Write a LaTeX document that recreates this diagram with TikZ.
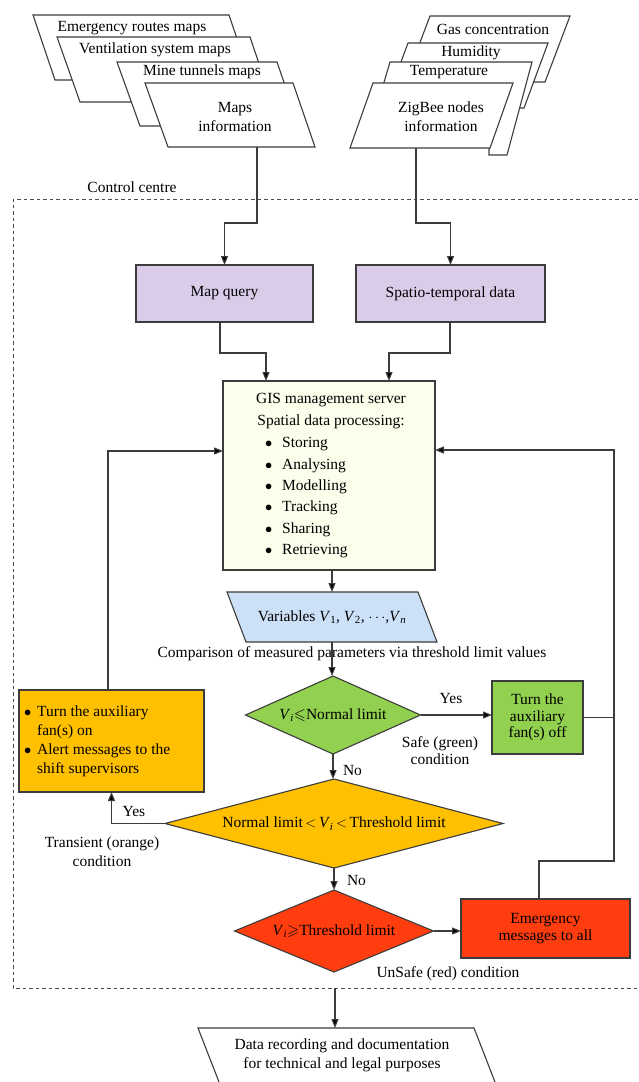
\documentclass[tikz,border=0pt]{standalone}
\usepackage{fontspec}
\usepackage{amssymb}
\setmainfont{Liberation Serif}
\usetikzlibrary{arrows.meta,shapes.geometric}
\definecolor{linec}{HTML}{3C3C3C}
\definecolor{purp}{HTML}{DACCE8}
\definecolor{gisy}{HTML}{FDFDEC}
\definecolor{varb}{HTML}{CCE0F7}
\definecolor{grn}{HTML}{92D050}
\definecolor{org}{HTML}{FFC000}
\definecolor{rdc}{HTML}{FF3D0F}
\begin{document}
\begin{tikzpicture}[x=1pt,y=-1pt,
 every node/.style={font=\fontsize{15.5}{19}\selectfont, inner sep=0pt, outer sep=0pt},
 box/.style={draw=linec, line width=1.1pt, align=center},
 para/.style={draw=linec, line width=1.1pt, fill=white, line join=miter},
 conn/.style={draw=linec, line width=1.1pt},
 arr/.style={conn, -{Triangle[length=9pt,width=7pt,fill=black]}},
 lbl/.style={align=center},
 dia/.style={diamond, draw=linec, line width=1.1pt, align=center},
 ccbox/.style={draw=black!70, line width=1pt, dash pattern=on 3.5pt off 3pt},
]
\useasboundingbox (0,0) rectangle (638,1082);

% left stack of maps
\path[para] (33,15) -- (229,15) -- (251,80) -- (55,80) -- cycle;
\node[lbl] (t1) at (132,28) {Emergency routes maps};
\path[para] (57,37) -- (250,37) -- (272,102) -- (80,102) -- cycle;
\node[lbl] (t2) at (155,50) {Ventilation system maps};
\path[para] (117,62) -- (277,62) -- (299,126) -- (140,126) -- cycle;
\node[lbl] (t3) at (202,72) {Mine tunnels maps};
\path[para] (145,83) -- (293,83) -- (315,147) -- (168,147) -- cycle;
\node[lbl] (t4) at (235,117) {Maps\\information};

% right stack of sensors
\path[para] (430,16) -- (570,16) -- (545,82) -- (405,82) -- cycle;
\node[lbl] (s1) at (493,29) {Gas concentration};
\path[para] (408,43) -- (548,43) -- (524,108) -- (384,108) -- cycle;
\node[lbl] (s2) at (471,53) {Humidity};
\path[para] (390,62) -- (532,62) -- (507,155) -- (489,155) -- (489,140) -- (367,140) -- cycle;
\node[lbl] (s3) at (449,72) {Temperature};
\path[para] (373,83) -- (513,83) -- (490,148) -- (350,148) -- cycle;
\node[lbl] (s4) at (441,117) {ZigBee nodes\\information};

% control centre
\node[lbl] (cc) at (132,187) {Control centre};
\draw[ccbox] (638,199) -- (13,199) -- (13,988) -- (638,988);

% boxes
\node[box, fill=purp, minimum width=177, minimum height=57] (mapq) at (224.5,293.5) {Map query};
\node[box, fill=purp, minimum width=189, minimum height=57] (spat) at (450.5,293.5) {Spatio-temporal data};
\node[box, fill=gisy, minimum width=212, minimum height=189] (gis) at (329,475.5) {};
\node[lbl, font=\fontsize{15.5}{22}\selectfont] (gist) at (331,411) {GIS management server\\Spatial data processing:};
\node[lbl, anchor=north west, font=\fontsize{15.5}{21.3}\selectfont] (gisl) at (265,433) {\begin{tabular}{@{}l@{\hspace{10pt}}l@{}}$\bullet$ & Storing\\ $\bullet$ & Analysing\\ $\bullet$ & Modelling\\ $\bullet$ & Tracking\\ $\bullet$ & Sharing\\ $\bullet$ & Retrieving\end{tabular}};

\path[para, fill=varb] (227,592) -- (418,592) -- (437,642) -- (246,642) -- cycle;
\node[lbl, minimum width=191, minimum height=50] (var) at (332,617) {Variables \textit{V}\textsubscript{1}, \textit{V}\textsubscript{2}, $\cdots$,\textit{V}\textsubscript{\textit{n}}};
\node[lbl] (cmp) at (352,654) {Comparison of measured parameters via threshold limit values};

\node[dia, fill=grn, minimum width=175, minimum height=78, aspect=2.2] (gd) at (333,715) {\textit{V}\textsubscript{\textit{i}}$\leqslant$Normal limit};
\node[box, fill=grn, minimum width=91, minimum height=73, font=\fontsize{15.5}{16.5}\selectfont] (gb) at (537.5,717.5) {Turn the\\auxiliary\\fan(s) off};
\node[dia, fill=org, minimum width=338, minimum height=89, aspect=3.8] (od) at (334,823.5) {Normal limit\,$<$\,\textit{V}\textsubscript{\textit{i}}\,$<$\,Threshold limit};
\node[dia, fill=rdc, minimum width=199, minimum height=82, aspect=2.4] (rdn) at (334,931) {\textit{V}\textsubscript{\textit{i}}$\geqslant$Threshold limit};
\node[box, fill=rdc, minimum width=169, minimum height=59, font=\fontsize{15.5}{16.5}\selectfont] (emg) at (545.5,928.5) {Emergency\\messages to all};
\node[box, fill=org, minimum width=185, minimum height=102] (ob) at (111.5,741) {};
\node[lbl, anchor=north west, font=\fontsize{15.5}{19.3}\selectfont] (obt) at (24,702.5) {\begin{tabular}{@{}l@{\hspace{6pt}}l@{}}$\bullet$ & Turn the auxiliary\\ & fan(s) on\\ $\bullet$ & Alert messages to the\\ & shift supervisors\end{tabular}};

% labels
\node[lbl] (y1) at (451,698) {Yes};
\node[lbl, font=\fontsize{15.5}{17}\selectfont] (sg) at (440,751) {Safe (green)\\condition};
\node[lbl, anchor=west] (n1) at (343,770) {No};
\node[lbl, anchor=west] (n2) at (347,880) {No};
\node[lbl] (y2) at (134,811) {Yes};
\node[lbl] (tc) at (102,852) {Transient (orange)\\condition};
\node[lbl] (us) at (448,974) {UnSafe (red) condition};

% output record
\draw[conn] (219,1082) -- (198,1028) -- (474,1028) -- (495,1082);
\node[lbl, minimum width=276, minimum height=54] (rec) at (342,1055) {Data recording and documentation\\for technical and legal purposes};

% connectors
\coordinate (p4b) at (257,147);
\coordinate (p4j) at (257,223);
\coordinate (zbb) at (416,148);
\coordinate (zbj) at (416,223);
\draw[arr] (p4b) -- (p4j) -| (mapq.north);
\draw[arr] (zbb) -- (zbj) -| (spat.north);
\draw[arr] ([xshift=-4.5pt]mapq.south) -- ++(0,31) -| ([xshift=43pt]gis.north west);
\draw[arr] ([xshift=-0.5pt]spat.south) -- ++(0,31) -| ([xshift=166pt]gis.north west);
\draw[arr] (gis.south -| var.north) -- (var.north);
\draw[arr] (var.south) -- (var.south |- gd.north);
\draw[arr] (gd.south) -- (gd.south |- od.north);
\draw[arr] (od.south) -- (rdn.north);
\draw[arr] (gd.east) -- (gd.east -| gb.west);
\draw[arr] (rdn.east) -- (rdn.east -| emg.west);
\draw[arr] (od.west) -| (ob.south);
\coordinate (lfb) at (108,451);
\draw[arr] (ob.north -| lfb) -- (lfb) -- (lfb -| gis.west);
\coordinate (rtop) at (614,450);
\coordinate (rbot) at (614,861);
\draw[arr] ([xshift=-6.5pt]emg.north) |- (rbot) -- (rtop) -- (rtop -| gis.east);
\draw[conn] (gb.east) -- (gb.east -| rtop);
\coordinate (ccb) at (335,988);
\draw[arr] (ccb) -- (ccb |- rec.north);
\end{tikzpicture}
\end{document}
